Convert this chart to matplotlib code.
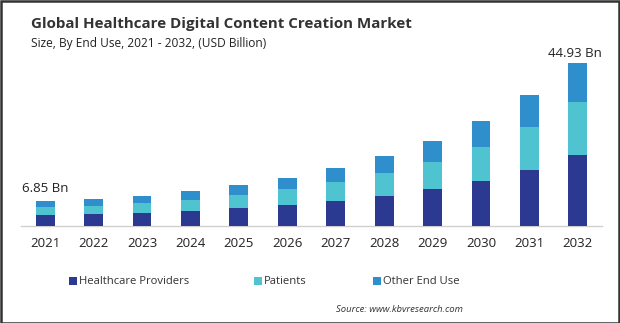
import matplotlib
matplotlib.use("Agg")
import matplotlib.pyplot as plt
from matplotlib.patches import Rectangle

years = ["2021", "2022", "2023", "2024", "2025", "2026", "2027", "2028", "2029", "2030", "2031", "2032"]
providers = [3.10, 3.38, 3.66, 4.12, 5.04, 5.77, 6.79, 8.17, 10.09, 12.29, 15.31, 19.44]
patients = [2.05, 2.20, 2.75, 3.02, 3.57, 4.40, 5.22, 6.32, 7.42, 9.35, 11.90, 14.66]
other_use = [1.70, 1.83, 1.83, 2.47, 2.66, 3.02, 3.85, 4.67, 5.77, 7.15, 8.71, 10.83]
series_names = ["Healthcare Providers", "Patients", "Other End Use"]
first_label = "6.85 Bn"
last_label = "44.93 Bn"

colors = ["#2B3990", "#4FC3CF", "#2E8FCC"]
font = "Open Sans"

W, H = 620, 323
fig = plt.figure(figsize=(W / 100, H / 100), dpi=100)
fig.patch.set_facecolor("white")

# axes: x from 21 to 602 px, baseline at 226 px
ymax = 48.0
ax_h_px = ymax * 3.637
ax = fig.add_axes([21 / W, (H - 226) / H, (602 - 21) / W, ax_h_px / H])
x = list(range(len(years)))
bw = 0.39
bottom2 = [a + b for a, b in zip(providers, patients)]
ax.bar(x, providers, width=bw, color=colors[0], label=series_names[0], zorder=3)
ax.bar(x, patients, width=bw, bottom=providers, color=colors[1], label=series_names[1], zorder=3)
ax.bar(x, other_use, width=bw, bottom=bottom2, color=colors[2], label=series_names[2], zorder=3)

totals = [a + b for a, b in zip(bottom2, other_use)]
ax.text(x[0], totals[0] + 1.8, first_label, ha="center", va="bottom", fontsize=9.5,
        family=font, color="#222222")
ax.text(x[-1] - 0.05, totals[-1] + 0.8, last_label, ha="center", va="bottom", fontsize=9.5,
        family=font, color="#222222")

ax.set_xlim(-0.5, 11.5)
ax.set_ylim(0, ymax)
ax.set_xticks(x)
ax.set_xticklabels(years, fontsize=9.5, family=font, color="#222222")
ax.tick_params(axis="x", length=0, pad=8)
ax.set_yticks([])
for s in ["top", "right", "left"]:
    ax.spines[s].set_visible(False)
ax.spines["bottom"].set_color("#D0D0D0")
ax.spines["bottom"].set_linewidth(1.0)
ax.patch.set_alpha(0)

# title and subtitle
fig.text(31 / W, 1 - 24 / H, "Global Healthcare Digital Content Creation Market",
         fontsize=10.9, fontweight="bold", family=font, color="#333333", va="center", ha="left")
fig.text(31 / W, 1 - 43 / H, "Size, By End Use, 2021 - 2032, (USD Billion)",
         fontsize=8.6, family=font, color="#222222", va="center", ha="left")

# legend
leg_items = [(69, series_names[0]), (254, series_names[1]), (373, series_names[2])]
for (lx, name), c in zip(leg_items, colors):
    fig.patches.append(Rectangle((lx / W, 1 - 285 / H), 8 / W, 8 / H, transform=fig.transFigure,
                                 facecolor=c, edgecolor="none"))
    fig.text((lx + 10) / W, 1 - 281 / H, name, fontsize=8.1, family=font, color="#333333",
             va="center", ha="left")

fig.text(463 / W, 1 - 309 / H, "Source: www.kbvresearch.com", fontsize=6.8, family=font,
         style="italic", color="#333333", va="center", ha="right")

# border
fig.patches.append(Rectangle((0.5 / W, 0.5 / H), (W - 1.5) / W, (H - 1.5) / H, transform=fig.transFigure,
                             facecolor="none", edgecolor="#333333", linewidth=1.8))

fig.savefig("out.png", dpi=100, facecolor="white")
